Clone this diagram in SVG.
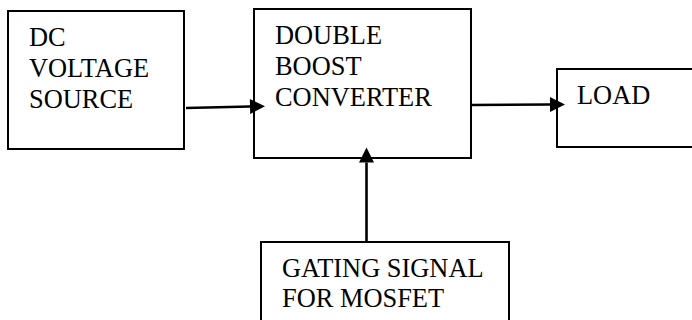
<svg xmlns="http://www.w3.org/2000/svg" width="692" height="320" viewBox="0 0 692 320">
  <style>
    .box { fill: #ffffff; stroke: #000000; stroke-width: 2; }
    .label { font-family: 'Liberation Serif', 'Times New Roman', serif; font-size: 26.4px; fill: #000000; }
    .wire { fill: none; stroke: #000000; stroke-width: 2.6; marker-end: url(#head); }
  </style>
  <defs>
    <marker id="head" markerUnits="userSpaceOnUse" markerWidth="16" markerHeight="16" refX="0" refY="7.5" orient="auto" overflow="visible">
      <path d="M0,0 L15,7.5 L0,15 Z" fill="#000000"/>
    </marker>
  </defs>
  <rect width="692" height="320" fill="#ffffff"/>

  <g id="dc-source">
    <rect class="box" x="8" y="11" width="176" height="138"/>
    <text class="label" x="29" y="46">DC</text>
    <text class="label" x="29" y="77">VOLTAGE</text>
    <text class="label" x="29" y="108">SOURCE</text>
  </g>

  <g id="converter">
    <rect class="box" x="254" y="9" width="217" height="149"/>
    <text class="label" x="275" y="44">DOUBLE</text>
    <text class="label" x="275" y="75">BOOST</text>
    <text class="label" x="275" y="106">CONVERTER</text>
  </g>

  <g id="load">
    <rect class="box" x="557" y="69" width="150" height="78"/>
    <text class="label" x="577" y="104">LOAD</text>
  </g>

  <g id="gating">
    <rect class="box" x="261" y="242" width="248" height="100"/>
    <text class="label" x="282" y="277">GATING SIGNAL</text>
    <text class="label" x="282" y="307">FOR MOSFET</text>
  </g>

  <g id="connectors">
    <path class="wire" d="M186,108 L250,106.5"/>
    <path class="wire" d="M471,105 L550,104.5"/>
    <path class="wire" d="M366.5,242 L366.5,162.5"/>
  </g>
</svg>
